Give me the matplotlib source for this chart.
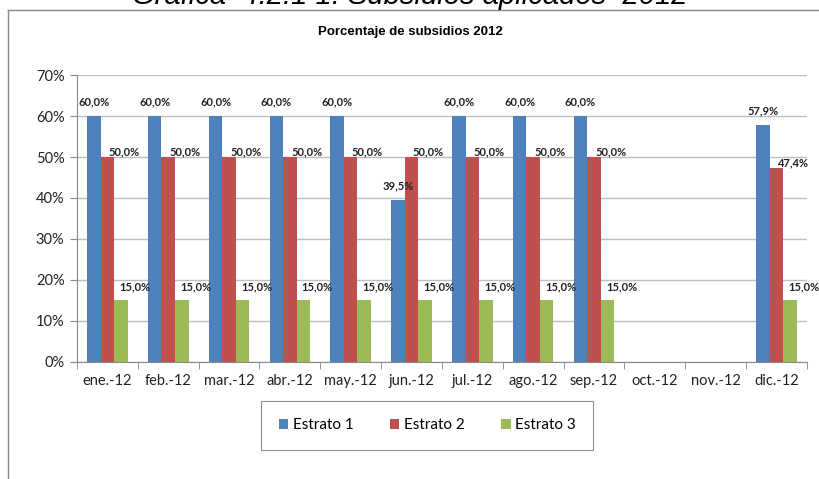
import numpy as np
import matplotlib.pyplot as plt
from matplotlib.lines import Line2D

# Datos de la gráfica
meses = ["ene.-12", "feb.-12", "mar.-12", "abr.-12", "may.-12", "jun.-12",
         "jul.-12", "ago.-12", "sep.-12", "oct.-12", "nov.-12", "dic.-12"]
estrato_1 = [60.0, 60.0, 60.0, 60.0, 60.0, 39.5, 60.0, 60.0, 60.0, np.nan, np.nan, 57.9]
estrato_2 = [50.0, 50.0, 50.0, 50.0, 50.0, 50.0, 50.0, 50.0, 50.0, np.nan, np.nan, 47.4]
estrato_3 = [15.0, 15.0, 15.0, 15.0, 15.0, 15.0, 15.0, 15.0, 15.0, np.nan, np.nan, 15.0]
series = ["Estrato 1", "Estrato 2", "Estrato 3"]
colores = ["#4F81BD", "#C0504D", "#9BBB59"]

fig = plt.figure(figsize=(8.2, 4.79), dpi=100)
ax = fig.add_axes([0.0939, 0.2443, 0.8902, 0.5991])

x = np.arange(len(meses))
ancho = 0.222
# desplazamiento de cada etiqueta respecto a la punta de la barra (puntos)
desp = [(0, 10), (12, 3.5), (10, 9.5)]

for i, (valores, nombre, color) in enumerate(zip([estrato_1, estrato_2, estrato_3], series, colores)):
    pos = x + (i - 1) * ancho
    ax.bar(pos, valores, width=ancho, color=color, label=nombre, zorder=3)
    for xp, v in zip(pos, valores):
        if np.isnan(v):
            continue
        ax.annotate("{:.1f}%".format(v).replace(".", ","), xy=(xp, v),
                    xytext=desp[i], textcoords="offset points",
                    ha="center", va="center", fontsize=8, fontweight="bold",
                    family="Lato", color="#222222", zorder=4)

ax.set_xlim(-0.5, len(meses) - 0.5)
ax.set_ylim(0, 70)
ax.set_yticks(np.arange(0, 71, 10))
ax.set_yticklabels(["{}%".format(t) for t in range(0, 71, 10)])
ax.set_xticks(x)
ax.set_xticklabels(meses)
ax.set_xticks(np.arange(-0.5, len(meses), 1), minor=True)
ax.tick_params(axis="x", which="major", length=0, pad=9)
ax.tick_params(axis="x", which="minor", length=5, color="#888888", direction="out")
ax.tick_params(axis="y", length=5, color="#888888", pad=4)
for lbl in ax.get_xticklabels() + ax.get_yticklabels():
    lbl.set_fontfamily("Lato")
    lbl.set_fontsize(10.5)
    lbl.set_color("#222222")

ax.grid(axis="y", color="#BFBFBF", linewidth=1, zorder=0)
for lado in ["top", "right"]:
    ax.spines[lado].set_visible(False)
for lado in ["left", "bottom"]:
    ax.spines[lado].set_color("#888888")

leg = ax.legend(loc="center", bbox_to_anchor=(0.5213, 0.1117), bbox_transform=fig.transFigure,
                ncol=3, frameon=True, fancybox=False, edgecolor="#777777",
                handlelength=0.6, handleheight=0.6, handletextpad=0.3, columnspacing=2.4,
                borderpad=1.15, prop={"family": "Lato", "size": 11})
leg.get_frame().set_linewidth(0.8)

fig.text(0.5, 1 - 32 / 479, "Porcentaje de subsidios 2012", ha="center", va="center",
         fontsize=9.5, fontweight="bold", family="Liberation Sans")

# título del documento, recortado por el borde superior
fig.text(0.5, 1 - 4.5 / 479, "Gráfica  4.2.1 1. Subsidios aplicados  2012", ha="center",
         va="baseline", fontsize=21, style="italic", family="Liberation Sans")

# marco del área del gráfico
fig.add_artist(Line2D([8 / 820, 1.0], [1 - 9.5 / 479, 1 - 9.5 / 479],
                      transform=fig.transFigure, color="#888888", linewidth=1))
fig.add_artist(Line2D([8 / 820, 8 / 820], [1 - 9.5 / 479, 0.0],
                      transform=fig.transFigure, color="#888888", linewidth=1))

fig.savefig("out.png", dpi=100)
